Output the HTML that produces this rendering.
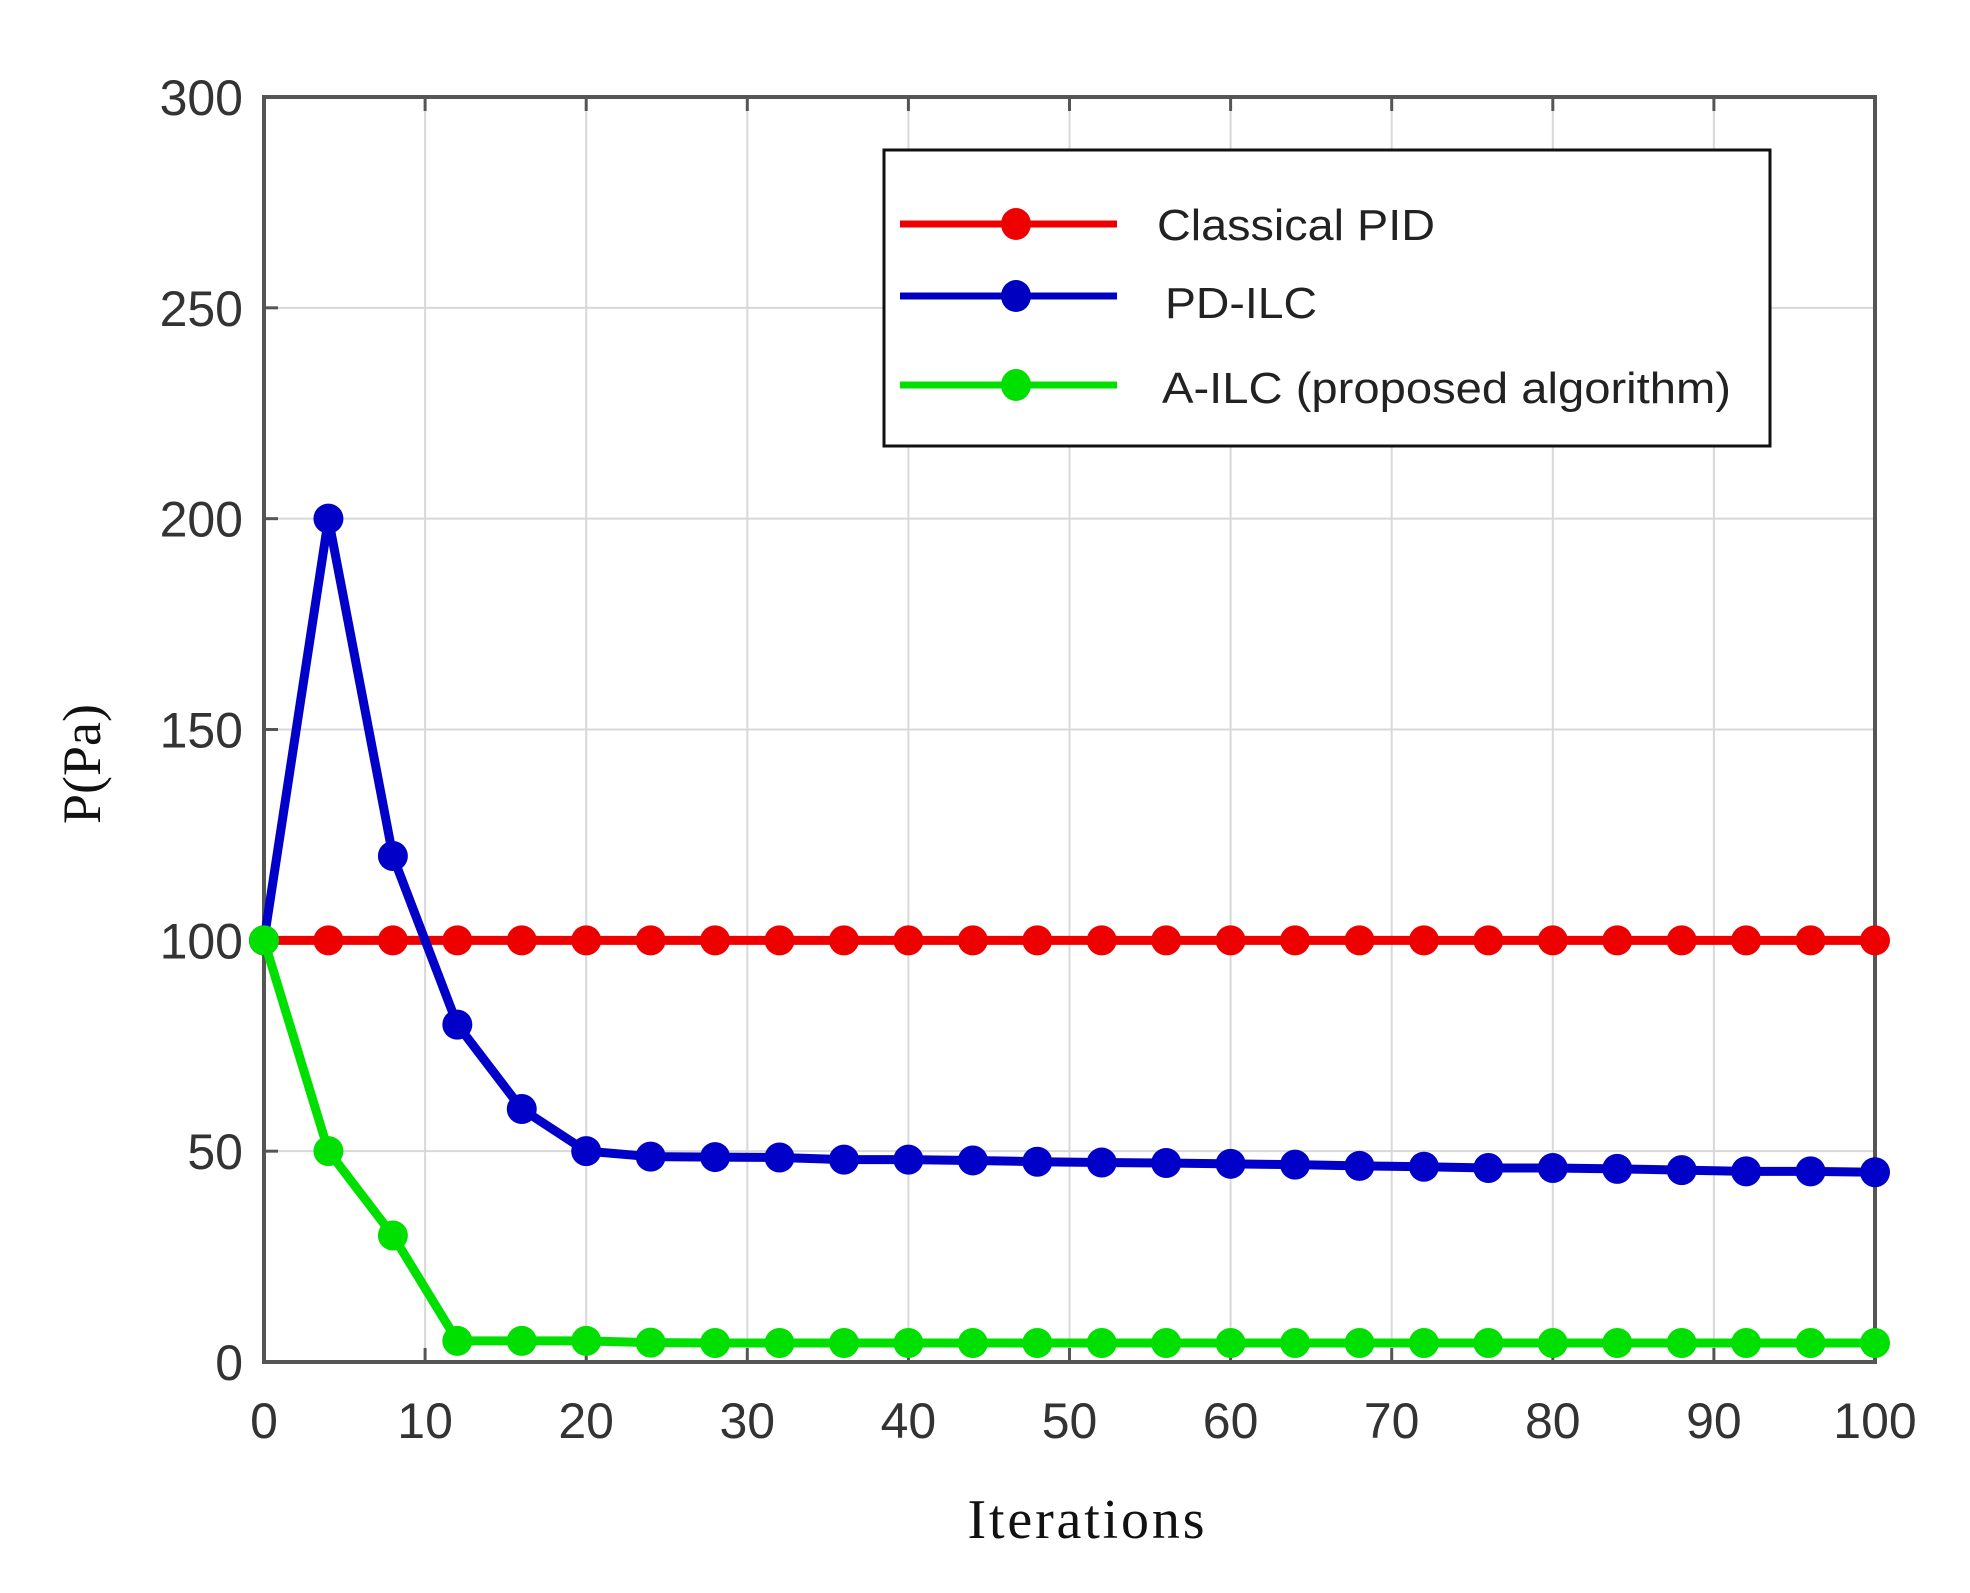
<!DOCTYPE html>
<html><head><meta charset="utf-8"><style>
html,body{margin:0;padding:0;background:#fff;}
svg{display:block;}
</style></head><body>
<svg width="1970" height="1593" viewBox="0 0 1970 1593" xmlns="http://www.w3.org/2000/svg">
<rect width="1970" height="1593" fill="#fff"/>
<g id="grid" stroke="#d8d8d8" stroke-width="2"></g>
<g id="axes"></g>
<g id="series"></g>
<g id="labels" font-family="Liberation Sans, sans-serif" font-size="50" fill="#333"></g>
<text x="1086" y="1538" font-family="Liberation Serif, serif" font-size="56" text-anchor="middle" textLength="237" fill="#111">Iterations</text>
<text transform="translate(100,764) rotate(-90)" font-family="Liberation Serif, serif" font-size="54" text-anchor="middle" fill="#111">P(Pa)</text>
<g id="legend">
<rect x="884" y="150" width="886" height="296" fill="#fff" stroke="#111" stroke-width="3"/>
<line x1="900" y1="224" x2="1117" y2="224" stroke="#ee0000" stroke-width="7"/>
<ellipse cx="1016" cy="224" rx="15" ry="16" fill="#ee0000"/>
<line x1="900" y1="296" x2="1117" y2="296" stroke="#0000c0" stroke-width="7"/>
<ellipse cx="1016" cy="296" rx="15" ry="16" fill="#0000c0"/>
<line x1="900" y1="385" x2="1117" y2="385" stroke="#00e000" stroke-width="7"/>
<ellipse cx="1016" cy="385" rx="15" ry="16" fill="#00e000"/>
<g font-family="Liberation Sans, sans-serif" font-size="44" fill="#222">
<text x="1157" y="240" textLength="278" lengthAdjust="spacingAndGlyphs">Classical PID</text>
<text x="1165" y="318" textLength="152" lengthAdjust="spacingAndGlyphs">PD-ILC</text>
<text x="1162" y="403" textLength="569" lengthAdjust="spacingAndGlyphs">A-ILC (proposed algorithm)</text>
</g>
</g>
<script>
const L=264,R=1875,T=97,B=1362;
const X=v=>L+(R-L)*v/100, Y=v=>B-(B-T)*v/300;
const ns="http://www.w3.org/2000/svg";
function el(p,t,a){const e=document.createElementNS(ns,t);for(const k in a)e.setAttribute(k,a[k]);document.getElementById(p).appendChild(e);return e;}
for(let i=10;i<100;i+=10)el("grid","line",{x1:X(i),y1:T,x2:X(i),y2:B});
for(let j=50;j<300;j+=50)el("grid","line",{x1:L,y1:Y(j),x2:R,y2:Y(j)});
el("axes","rect",{x:L,y:T,width:R-L,height:B-T,fill:"none",stroke:"#555","stroke-width":4});
for(let i=0;i<=100;i+=10){el("axes","line",{x1:X(i),y1:B,x2:X(i),y2:B-14,stroke:"#555","stroke-width":3});el("axes","line",{x1:X(i),y1:T,x2:X(i),y2:T+14,stroke:"#555","stroke-width":3});
 const t=el("labels","text",{x:X(i),y:1438,"text-anchor":"middle"});t.textContent=i;}
for(let j=0;j<=300;j+=50){el("axes","line",{x1:L,y1:Y(j),x2:L+14,y2:Y(j),stroke:"#555","stroke-width":3});
 const t=el("labels","text",{x:243,y:Y(j)+18,"text-anchor":"end"});t.textContent=j;}
const xs=[];for(let i=0;i<=100;i+=4)xs.push(i);
const red=xs.map(_=>100);
const blue=[100,200,120,80,60,50,48.7,48.6,48.5,48,48,47.8,47.5,47.3,47.2,47,46.8,46.5,46.3,46,46,45.8,45.5,45.2,45.2,45];
const green=[100,50,30,5,5,5,4.6,4.5,4.5,4.5,4.5,4.5,4.5,4.5,4.5,4.5,4.5,4.5,4.5,4.5,4.5,4.5,4.5,4.5,4.5,4.5];
function draw(d,c){el("series","polyline",{points:xs.map((x,i)=>X(x)+","+Y(d[i])).join(" "),fill:"none",stroke:c,"stroke-width":9,"stroke-linejoin":"round"});
 xs.forEach((x,i)=>el("series","circle",{cx:X(x),cy:Y(d[i]),r:15,fill:c}));}
draw(red,"#ee0000");draw(blue,"#0000c8");draw(green,"#00e000");
</script>
</svg>
</body></html>
